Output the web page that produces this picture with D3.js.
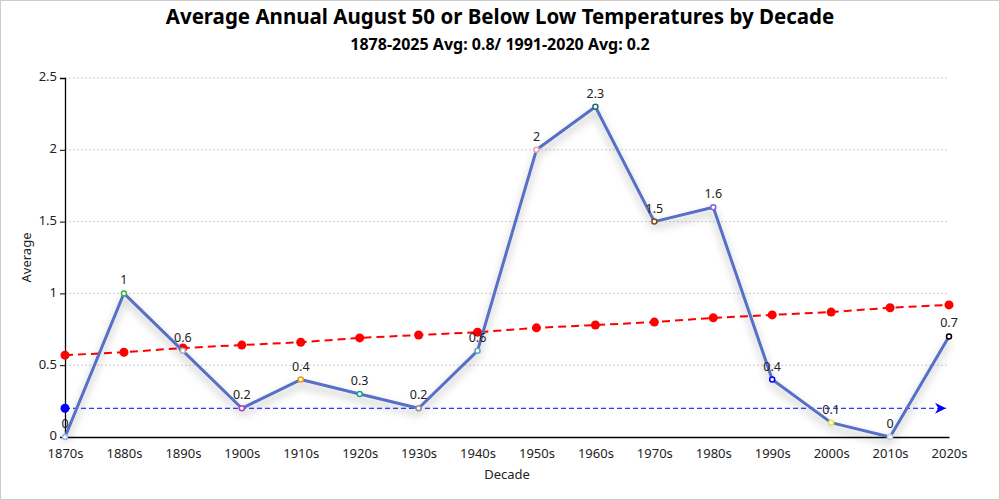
<!DOCTYPE html>
<html>
<head>
<meta charset="utf-8">
<script src="https://cdn.jsdelivr.net/npm/d3@7"></script>
<style>
  body { margin: 0; background: #fff; font-family: "Noto Sans", "Open Sans", sans-serif; }
  svg { display: block; }
</style>
</head>
<body>
<svg id="chart" width="1000" height="500"></svg>
<script>
// decades on the x axis
const decades = ["1870s", "1880s", "1890s", "1900s", "1910s", "1920s", "1930s", "1940s",
  "1950s", "1960s", "1970s", "1980s", "1990s", "2000s", "2010s", "2020s"];
// average per decade
const averages = [0, 1, 0.6, 0.2, 0.4, 0.3, 0.2, 0.6, 2, 2.3, 1.5, 1.6, 0.4, 0.1, 0, 0.7];
// trend line values
const trend = [0.57, 0.59, 0.62, 0.64, 0.66, 0.69, 0.71, 0.73, 0.76, 0.78, 0.80, 0.83, 0.85, 0.87, 0.90, 0.92];
// point outline colours
const pointColors = ["#9db4e8", "#3cb043", "#b0b0b0", "#b040c0", "#f0960a", "#20a090", "#909090", "#5fa8b8",
  "#f0a0b0", "#1e6e6e", "#8b4513", "#8060e0", "#0000ff", "#e8e040", "#c8c8e8", "#000000"];
const yTicks = [0, 0.5, 1, 1.5, 2, 2.5];
const normal = 0.2;

const margin = { top: 78, right: 51, bottom: 63, left: 65 };
const width = 1000 - margin.left - margin.right;
const height = 500 - margin.top - margin.bottom;

const svg = d3.select("#chart");

// outer frame
svg.append("rect")
  .attr("x", 0.5).attr("y", 0.5)
  .attr("width", 999).attr("height", 499)
  .attr("fill", "none").attr("stroke", "#ccc");

svg.append("text")
  .attr("x", 500).attr("y", 24)
  .attr("text-anchor", "middle")
  .attr("font-size", 20.5).attr("font-weight", "bold")
  .text("Average Annual August 50 or Below Low Temperatures by Decade");

svg.append("text")
  .attr("x", 500).attr("y", 50)
  .attr("text-anchor", "middle")
  .attr("font-size", 16).attr("font-weight", "bold")
  .text("1878-2025 Avg: 0.8/ 1991-2020 Avg: 0.2");

const defs = svg.append("defs");
const shadow = defs.append("filter").attr("id", "shadow")
  .attr("x", "-20%").attr("y", "-20%").attr("width", "140%").attr("height", "140%");
shadow.append("feDropShadow")
  .attr("dx", 0).attr("dy", 5).attr("stdDeviation", 4)
  .attr("flood-color", "#000").attr("flood-opacity", 0.3);

defs.append("marker")
  .attr("id", "arrow")
  .attr("viewBox", "0 0 10 10")
  .attr("refX", 10).attr("refY", 5)
  .attr("markerWidth", 16).attr("markerHeight", 11)
  .attr("markerUnits", "userSpaceOnUse")
  .attr("orient", "auto")
  .append("path")
  .attr("d", "M0,0 L10,5 L0,10 L3,5 Z")
  .attr("fill", "#0000ff");

const g = svg.append("g").attr("transform", `translate(${margin.left},${margin.top})`);

const x = d3.scalePoint().domain(decades).range([0, width]);
const y = d3.scaleLinear().domain([0, 2.5]).range([height, 0]);

// grid lines
g.append("g")
  .selectAll("line")
  .data(yTicks.filter(d => d > 0))
  .join("line")
  .attr("x1", 0).attr("x2", width)
  .attr("y1", d => y(d)).attr("y2", d => y(d))
  .attr("stroke", "#ccc")
  .attr("stroke-dasharray", "2,2");

// y axis
const yAxis = g.append("g")
  .call(d3.axisLeft(y).tickValues(yTicks).tickFormat(d3.format("~g")).tickSize(5).tickPadding(3));
yAxis.select(".domain").attr("stroke", "#000").attr("stroke-width", 1.3);
yAxis.selectAll("text").attr("font-size", 13).attr("fill", "#222")
  .attr("dy", "0.22em")
  .attr("font-family", "Noto Sans, sans-serif");

// x axis
const xAxis = g.append("g")
  .attr("transform", `translate(0,${height})`)
  .call(d3.axisBottom(x).tickSize(0).tickPadding(12));
xAxis.select(".domain").attr("stroke", "#000").attr("stroke-width", 1.3);
xAxis.selectAll("text").attr("font-size", 13).attr("fill", "#222")
  .attr("font-family", "Noto Sans, sans-serif");

svg.append("text")
  .attr("x", margin.left + width / 2).attr("y", 479)
  .attr("text-anchor", "middle").attr("font-size", 13).attr("fill", "#222")
  .text("Decade");

svg.append("text")
  .attr("transform", `translate(31,${margin.top + height / 2}) rotate(-90)`)
  .attr("text-anchor", "middle").attr("font-size", 13).attr("fill", "#222")
  .text("Average");

// normal (1991-2020) mark line
g.append("line")
  .attr("x1", 0).attr("x2", x(decades[decades.length - 1]) - 3)
  .attr("y1", y(normal)).attr("y2", y(normal))
  .attr("stroke", "#0000ff").attr("stroke-width", 1)
  .attr("stroke-dasharray", "5,3")
  .attr("marker-end", "url(#arrow)");
g.append("circle")
  .attr("cx", 0).attr("cy", y(normal)).attr("r", 4.5)
  .attr("fill", "#0000ff");

// trend line
const trendLine = d3.line().x((d, i) => x(decades[i])).y(d => y(d));
g.append("path")
  .datum(trend)
  .attr("d", trendLine)
  .attr("fill", "none")
  .attr("stroke", "#ff0000").attr("stroke-width", 2)
  .attr("stroke-dasharray", "8,5");
g.append("g")
  .selectAll("circle")
  .data(trend)
  .join("circle")
  .attr("cx", (d, i) => x(decades[i]))
  .attr("cy", d => y(d))
  .attr("r", 4.5)
  .attr("fill", "#ff0000");

// main series
const line = d3.line().x((d, i) => x(decades[i])).y(d => y(d));
g.append("path")
  .datum(averages)
  .attr("d", line)
  .attr("fill", "none")
  .attr("stroke", "#5470c6").attr("stroke-width", 3)
  .attr("stroke-linejoin", "round")
  .attr("filter", "url(#shadow)");

g.append("g")
  .selectAll("circle")
  .data(averages)
  .join("circle")
  .attr("cx", (d, i) => x(decades[i]))
  .attr("cy", d => y(d))
  .attr("r", 2.5)
  .attr("fill", "#fff")
  .attr("stroke", (d, i) => pointColors[i])
  .attr("stroke-width", 1.5);

g.append("g")
  .selectAll("text")
  .data(averages)
  .join("text")
  .attr("x", (d, i) => x(decades[i]))
  .attr("y", d => y(d) - 9)
  .attr("text-anchor", "middle")
  .attr("font-size", 12.5).attr("fill", "#222")
  .text(d => d3.format("~g")(d));
</script>
</body>
</html>
